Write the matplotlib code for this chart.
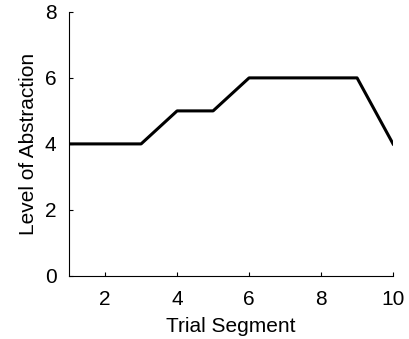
import matplotlib
matplotlib.use('Agg')
import matplotlib.pyplot as plt

segments = [1, 2, 3, 4, 5, 6, 7, 8, 9, 10]
abstraction = [4, 4, 4, 5, 5, 6, 6, 6, 6, 4]
x_ticks = [2, 4, 6, 8, 10]
y_ticks = [0, 2, 4, 6, 8]

plt.rcParams['font.family'] = ['Liberation Sans', 'DejaVu Sans']

fig = plt.figure(figsize=(4.09, 3.39), dpi=100)
ax = fig.add_axes([0.169, 0.186, 0.792, 0.779])
ax.plot(segments, abstraction, color='black', linewidth=2.2)

ax.set_xlim(1, 10)
ax.set_ylim(0, 8)
ax.set_xticks(x_ticks)
ax.set_yticks(y_ticks)
ax.tick_params(direction='in', length=3, width=0.8, labelsize=15)
ax.tick_params(axis='x', pad=10)
ax.tick_params(axis='y', pad=9)
ax.set_xlabel('Trial Segment', fontsize=15, labelpad=6)
ax.set_ylabel('Level of Abstraction', fontsize=15, labelpad=5)
ax.spines['top'].set_visible(False)
ax.spines['right'].set_visible(False)

fig.savefig('out.png', dpi=100)
